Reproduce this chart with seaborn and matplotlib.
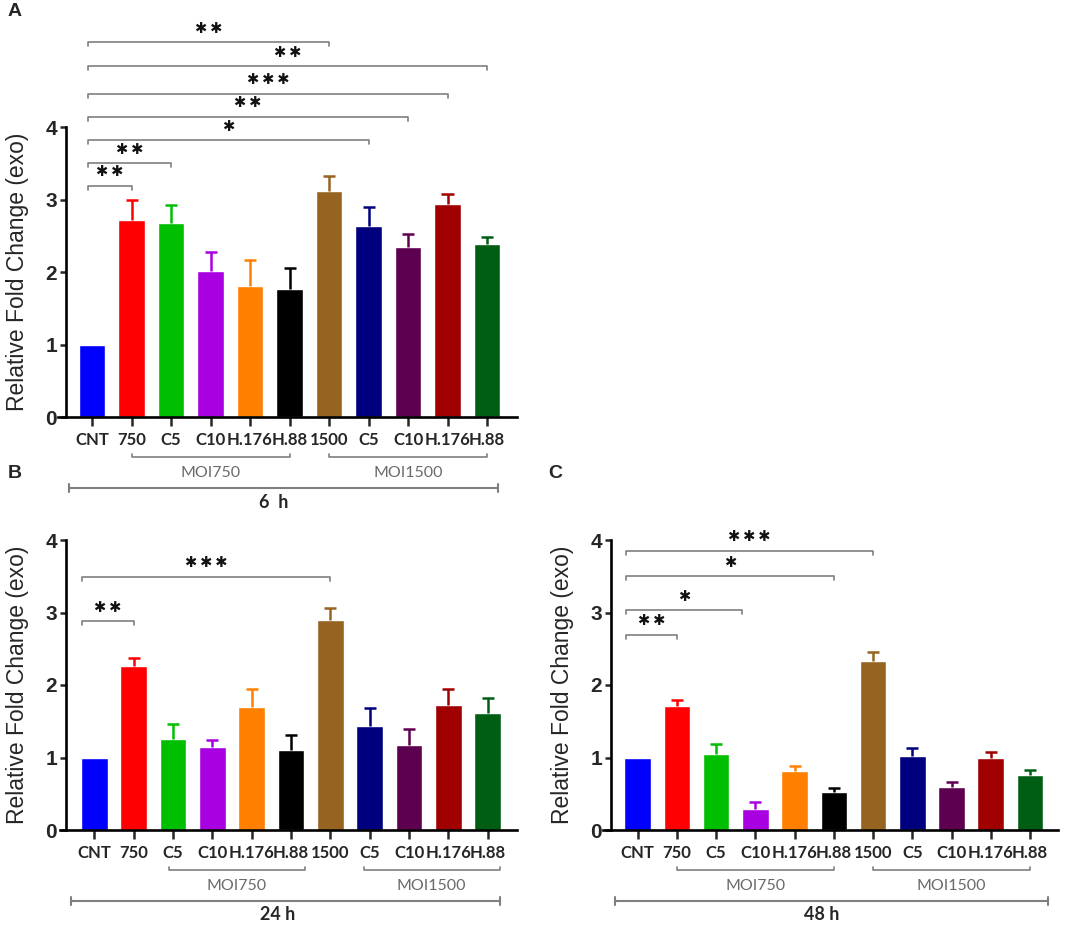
import numpy as np
import pandas as pd
import matplotlib
matplotlib.use("Agg")
import matplotlib.pyplot as plt
import seaborn as sns

# ---------------- data ----------------
categories = ["CNT", "750", "C5", "C10", "H.176", "H.88", "1500", "C5", "C10", "H.176", "H.88"]
colors = ["#0000FF", "#FF0000", "#00BE00", "#A800E0", "#FF8000", "#000000",
          "#966321", "#00007F", "#5E0050", "#A00000", "#005E14"]

mean_6h = [1.00, 2.72, 2.68, 2.01, 1.81, 1.77, 3.12, 2.64, 2.34, 2.94, 2.39]
sem_6h = [0.00, 0.28, 0.24, 0.27, 0.35, 0.29, 0.20, 0.25, 0.18, 0.14, 0.09]
mean_24h = [1.00, 2.26, 1.26, 1.15, 1.70, 1.10, 2.90, 1.44, 1.17, 1.72, 1.61]
sem_24h = [0.00, 0.11, 0.20, 0.09, 0.24, 0.21, 0.16, 0.24, 0.22, 0.22, 0.21]
mean_48h = [1.00, 1.71, 1.05, 0.29, 0.81, 0.53, 2.33, 1.02, 0.59, 1.00, 0.76]
sem_48h = [0.00, 0.08, 0.14, 0.10, 0.07, 0.05, 0.12, 0.11, 0.07, 0.08, 0.07]

# significance comparisons vs CNT: (target bar, stars)
sig_6h = [(1, "**"), (2, "**"), (7, "*"), (8, "**"), (9, "***"), (10, "**"), (6, "**")]
sig_24h = [(1, "**"), (6, "***")]
sig_48h = [(1, "**"), (2.65, "*"), (5, "*"), (6, "***")]

time_labels = ["6  h", "24 h", "48 h"]
group_labels = ["MOI750", "MOI1500"]

# ---------------- layout (styles / positions) ----------------
levels_6h = [3.19, 3.50, 3.82, 4.14, 4.46, 4.84, 5.17]
levels_24h = [2.88, 3.49]
levels_48h = [2.69, 3.03, 3.50, 3.85]

W, H = 1065, 926
fig = plt.figure(figsize=(W / 100, H / 100), dpi=100)
sns.set_style("white")
plt.rcParams["font.family"] = ["Liberation Sans", "DejaVu Sans"]

GRAY = "#7f7f7f"


def star_text(stars):
    return "\u2009".join("\u2731" for _ in stars)


def panel(geom, means, sems, sigs, levels, start_off, groups, tlabel, tspan, tlab_x):
    x0, x1, ytop, ybot, cnt, last, spine = geom
    ax = fig.add_axes([x0 / W, 1 - ybot / H, (x1 - x0) / W, (ybot - ytop) / H])
    s = (last - cnt) / 10.0
    pxu = (ybot - ytop) / 4.0  # pixels per data unit

    keys = [str(i) for i in range(len(categories))]
    df = pd.DataFrame({"key": keys, "mean": means})
    sns.barplot(data=df, x="key", y="mean", hue="key", order=keys,
                palette=dict(zip(keys, colors)), legend=False, width=0.68,
                saturation=1, errorbar=None, ax=ax, zorder=2)
    cap = 6.0 / s
    for i, (m, e) in enumerate(zip(means, sems)):
        if e > 0:
            ax.vlines(i, m, m + e, color=colors[i], lw=1.8, zorder=3)
            ax.hlines(m + e, i - cap, i + cap, color=colors[i], lw=1.8, zorder=3)

    ax.set_xlim(-(cnt - x0) / s, (x1 - cnt) / s)
    ax.set_ylim(0, 4)
    ax.spines["left"].set_position(("data", -(cnt - spine) / s))
    for side in ["top", "right"]:
        ax.spines[side].set_visible(False)
    for side in ["left", "bottom"]:
        ax.spines[side].set_linewidth(1.9)
        ax.spines[side].set_color("black")
    ax.set_yticks([0, 1, 2, 3, 4])
    ax.set_yticklabels(["0", "1", "2", "3", "4"], fontsize=15, fontweight="bold",
                       family=["Liberation Sans"])
    ax.set_xticks(range(len(categories)))
    ax.set_xticklabels(categories, fontsize=12, fontweight="bold", family=["Lato"])
    ax.tick_params(axis="x", length=6.5, width=1.8, direction="out", pad=4.5, bottom=True)
    ax.tick_params(axis="y", length=4.5, width=1.8, direction="out", pad=2, left=True)
    ax.set_xlabel("")
    ax.set_ylabel("Relative Fold Change (exo)", fontsize=16.5, family=["Liberation Sans"])
    ax.yaxis.set_label_coords((spine - 37 - x0) / (x1 - x0), 0.5)
    ax.grid(False)

    # significance brackets
    drop = 4 / pxu
    for (tgt, stars), lev in zip(sigs, levels):
        xa, xb = start_off, tgt
        ax.plot([xa, xa, xb, xb], [lev - drop, lev, lev, lev - drop], color=GRAY,
                lw=1.2, clip_on=False, zorder=4)
        ax.text((xa + xb) / 2, lev + 14 / pxu, star_text(stars), ha="center", va="center",
                fontsize=10.5, color="#111111", family=["DejaVu Sans"], clip_on=False)

    # group brackets below axis
    gy = -(40 / pxu)
    for (ga, gb), lab in zip(groups, group_labels):
        ax.plot([ga, ga, gb, gb], [gy + 3 / pxu, gy, gy, gy + 3 / pxu], color=GRAY,
                lw=1.2, clip_on=False)
        ax.text((ga + gb) / 2, -(56 / pxu), lab, ha="center", va="center",
                fontsize=11.5, color="#6a6a6a", family=["Lato"], clip_on=False)
    ty = -(71 / pxu)
    ta, tb = tspan
    ax.plot([ta, tb], [ty, ty], color=GRAY, lw=1.5, clip_on=False)
    for xx in (ta, tb):
        ax.plot([xx, xx], [ty - 4 / pxu, ty + 4 / pxu], color=GRAY, lw=1.5, clip_on=False)
    ax.text(tlab_x, -(85 / pxu), tlabel, ha="center", va="center", fontsize=13,
            fontweight="bold", family=["Lato"], clip_on=False)
    return ax


panel((58, 517, 127, 417, 92, 487, 66), mean_6h, sem_6h, sig_6h, levels_6h, -0.1,
      [(1, 5), (6, 10)], time_labels[0], (-0.58, 10.28), 4.6)
panel((60, 517, 540, 830, 94.3, 487.7, 66), mean_24h, sem_24h, sig_24h, levels_24h, -0.3,
      [(1.9, 5.35), (6.85, 10.3)], time_labels[1], (-0.59, 10.31), 4.65)
panel((603, 1058, 540, 830, 637.7, 1030, 611), mean_48h, sem_48h, sig_48h, levels_48h, -0.3,
      [(1, 5), (6, 10)], time_labels[2], (-0.59, 10.46), 4.7)

for lab, (px, py) in zip(["A", "B", "C"], [(15, 12), (15, 474), (555, 474)]):
    fig.text(px / W, 1 - py / H, lab, ha="center", va="center", fontsize=14,
             fontweight="bold", family=["Liberation Sans"])

fig.savefig("out.png", dpi=100)
